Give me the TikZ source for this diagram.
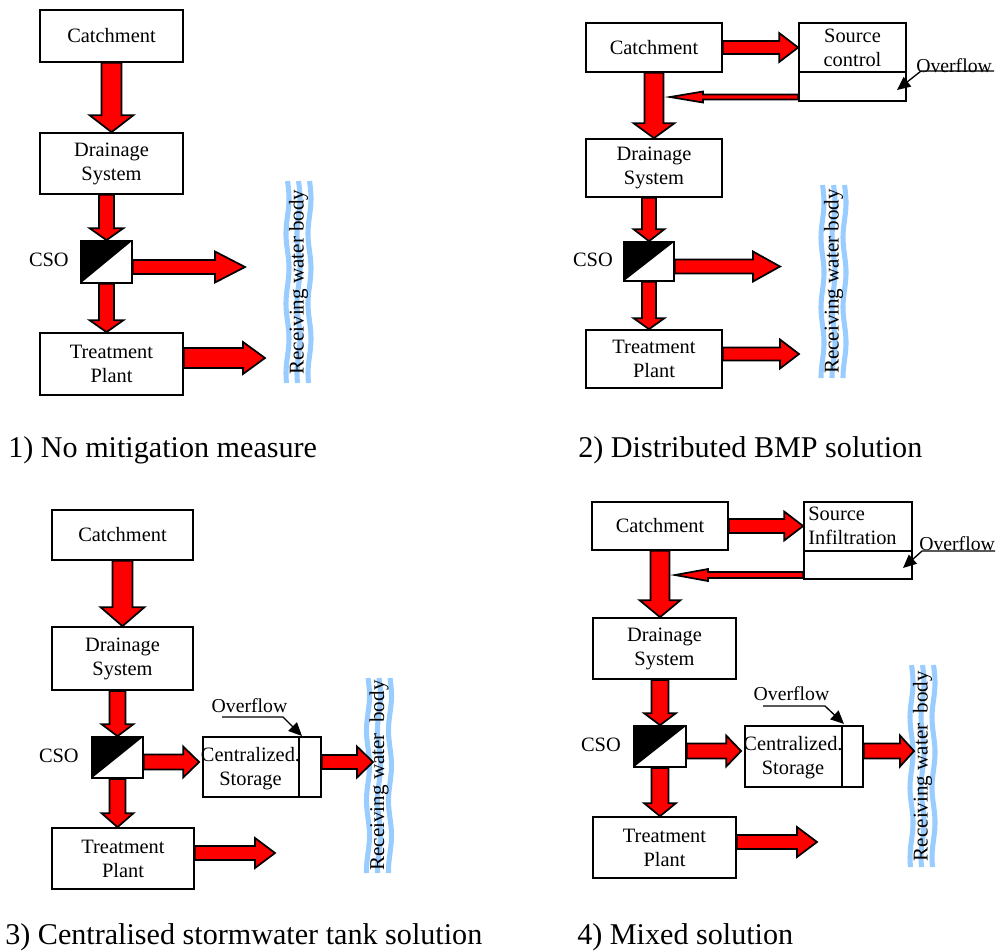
\documentclass[tikz,border=0pt]{standalone}
\usepackage{fontspec}
\setmainfont{Liberation Serif}
\usetikzlibrary{arrows.meta,calc}
\definecolor{waterblue}{HTML}{99CCFF}
\definecolor{arrred}{HTML}{FF0000}
\def\px{*0.75pt}
\newcommand\boxfont{\fontsize{15.3pt}{18pt}\selectfont}
\newcommand\ovfont{\fontsize{14.8pt}{18pt}\selectfont}
\newcommand\capfont{\fontsize{22.6pt}{26pt}\selectfont}
\newcommand\wfont{\fontsize{15.8pt}{18pt}\selectfont}
\tikzset{
  box/.style={draw, line width=1.3pt, fill=white, inner sep=0pt, font=\boxfont, align=center},
  csobox/.style={draw, line width=1.3pt, fill=white, inner sep=0pt,
    path picture={\fill[black] (path picture bounding box.south west) -- (path picture bounding box.north west) -- (path picture bounding box.north east) -- cycle;}},
  barrow/.style={draw, line width=1.3pt, fill=arrred, line join=miter},
  waterline/.style={line width=3.8pt, draw=waterblue},
  lbl/.style={font=\boxfont, inner sep=0pt},
  ovlbl/.style={font=\ovfont, inner sep=0pt},
  captext/.style={font=\capfont, inner sep=0pt},
  divider/.style={line width=1.3pt},
  calloutline/.style={line width=1pt, -{Triangle[length=10pt,width=9pt]}},
}
\newcommand\arrdown[5]{%
  \path[barrow] let \p1=#1, \p2=#2 in
  (\x1-#3\px,\y1) -- (\x1+#3\px,\y1) -- (\x1+#3\px,\y2+#5\px) -- (\x1+#4\px,\y2+#5\px)
  -- (\x1,\y2) -- (\x1-#4\px,\y2+#5\px) -- (\x1-#3\px,\y2+#5\px) -- cycle;}
\newcommand\arrright[5]{%
  \path[barrow] let \p1=#1, \p2=#2 in
  (\x1,\y1+#3\px) -- (\x2-#5\px,\y1+#3\px) -- (\x2-#5\px,\y1+#4\px) -- (\x2,\y1)
  -- (\x2-#5\px,\y1-#4\px) -- (\x2-#5\px,\y1-#3\px) -- (\x1,\y1-#3\px) -- cycle;}
\newcommand\arrleft[5]{%
  \path[barrow] let \p1=#1, \p2=#2 in
  (\x1,\y1+#3\px) -- (\x2+#5\px,\y1+#3\px) -- (\x2+#5\px,\y1+#4\px) -- (\x2,\y1)
  -- (\x2+#5\px,\y1-#4\px) -- (\x2+#5\px,\y1-#3\px) -- (\x1,\y1-#3\px) -- cycle;}
\newcommand\waterbody[5]{%
  \foreach \dx in {-11,0,11} {%
    \draw[waterline] plot[variable=\t, domain=#3:#4, samples=60, smooth] ({#2+\dx+1.5*sin((\t-#3)/70*360)}, \t);}
  \node[rotate=90, font=\wfont, inner sep=0pt] (#1) at (#2, {(#3+#4)/2}) {#5};}
\begin{document}
\begin{tikzpicture}[x=0.75pt,y=-0.75pt]
\useasboundingbox (0,0) rectangle (998,951);

% ---------- Panel 1 ----------
\waterbody{wb1}{298.5}{181}{383}{Receiving water body}
\node[box, minimum width=143\px, minimum height=52\px] (cat1) at (111.5,36) {Catchment};
\node[box, minimum width=143\px, minimum height=61\px] (dr1) at (111.5,163.5) {Drainage\\System};
\node[csobox, minimum width=51\px, minimum height=42\px] (cso1) at (106.5,262) {};
\node[box, minimum width=143\px, minimum height=62\px] (tr1) at (111.5,364) {Treatment\\Plant};
\node[lbl, anchor=east] (csol1) at (69,260) {CSO};
\coordinate (t1a) at (245,267);
\coordinate (t1b) at (265,358);
\arrdown{(cat1.south)}{(dr1.north)}{10}{22}{17}
\arrdown{(cso1.north |- dr1.south)}{(cso1.north)}{7.5}{17}{12}
\arrdown{(cso1.south)}{(cso1.south |- tr1.north)}{7.5}{17}{12}
\arrright{([yshift=-5\px]cso1.east)}{(t1a)}{7}{15.5}{30}
\arrright{([yshift=6\px]tr1.east)}{(t1b)}{10}{16}{22}

% ---------- Panel 2 ----------
\waterbody{wb2}{833.5}{185}{378}{Receiving water body}
\node[box, minimum width=136\px, minimum height=49\px] (cat2) at (654,47.5) {Catchment};
\node[box, minimum width=107\px, minimum height=49\px] (src2) at (852.5,47.5) {Source\\control};
\node[box, minimum width=107\px, minimum height=29\px] (src2b) at (852.5,86.5) {};
\node[box, minimum width=136\px, minimum height=58\px] (dr2) at (654,168) {Drainage\\System};
\node[csobox, minimum width=50\px, minimum height=39\px] (cso2) at (649,261.5) {};
\node[box, minimum width=136\px, minimum height=58\px] (tr2) at (654,359) {Treatment\\Plant};
\node[lbl, anchor=east] (csol2) at (613,260) {CSO};
\coordinate (t2r) at (670,97);
\coordinate (t2a) at (780,267);
\coordinate (t2b) at (799,354);
\arrright{(cat2.east)}{(src2.west)}{6.5}{14.5}{19}
\arrleft{([yshift=-10.5\px]src2b.west)}{(t2r)}{2.5}{5.5}{33}
\arrdown{(cat2.south)}{(cat2.south |- dr2.north)}{9.5}{20.5}{15}
\arrdown{(cso2.north |- dr2.south)}{(cso2.north)}{7}{15.5}{12}
\arrdown{(cso2.south)}{(cso2.south |- tr2.north)}{7}{15.5}{11}
\arrright{([yshift=-5\px]cso2.east)}{(t2a)}{7}{15}{27}
\arrright{([yshift=5\px]tr2.east)}{(t2b)}{6.5}{14.5}{19}
\node[ovlbl, anchor=west] (ov2) at (916,66) {Overflow};
\coordinate (ov2a) at (994,71);
\coordinate (ov2b) at (921,71);
\coordinate (ov2tip) at (897,90);
\draw[calloutline] (ov2a) -- (ov2b) -- (ov2tip);

% ---------- Panel 3 ----------
\waterbody{wb3}{379}{678}{873}{Receiving water\ \ body}
\node[box, minimum width=141\px, minimum height=50\px] (cat3) at (122.5,535) {Catchment};
\node[box, minimum width=141\px, minimum height=63\px] (dr3) at (122.5,658.5) {Drainage\\System};
\node[csobox, minimum width=51\px, minimum height=41\px] (cso3) at (117.5,757.5) {};
\node[box, minimum width=118\px, minimum height=60\px] (st3) at (262,767) {};
\node[lbl, align=center] (st3t) at (250.5,769) {Centralized.\\Storage};
\draw[divider] ([xshift=-23\px]st3.north east) -- ([xshift=-23\px]st3.south east);
\node[box, minimum width=142\px, minimum height=61\px] (tr3) at (123,858.5) {Treatment\\Plant};
\node[lbl, anchor=east] (csol3) at (79,756) {CSO};
\coordinate (t3a) at (373,762);
\coordinate (t3b) at (275,853);
\arrdown{(cat3.south)}{(cat3.south |- dr3.north)}{10}{22}{19}
\arrdown{(cso3.north |- dr3.south)}{(cso3.north)}{8}{16}{12}
\arrdown{(cso3.south)}{(cso3.south |- tr3.north)}{8}{16}{14}
\arrright{([yshift=-4.5\px]cso3.east)}{([xshift=-3\px]st3.west)}{7.5}{15.5}{16}
\arrright{([yshift=5\px]st3.east)}{(t3a)}{7}{15.5}{16}
\arrright{([yshift=5.5\px]tr3.east)}{(t3b)}{7}{15}{20}
\node[ovlbl] (ov3) at (249.5,706) {Overflow};
\coordinate (ov3a) at (222,717);
\coordinate (ov3b) at (283,717);
\coordinate (ov3tip) at (302,736);
\draw[calloutline] (ov3a) -- (ov3b) -- (ov3tip);

% ---------- Panel 4 ----------
\waterbody{wb4}{922.5}{665}{867}{Receiving water\ \ body}
\node[box, minimum width=136\px, minimum height=48\px] (cat4) at (660,526) {Catchment};
\node[box, minimum width=108\px, minimum height=49\px] (src4) at (858,526.5) {};
\node[lbl, anchor=west, align=left] (src4t) at (808,526) {Source\\Infiltration};
\node[box, minimum width=108\px, minimum height=28\px] (src4b) at (858,565) {};
\node[box, minimum width=143\px, minimum height=61\px] (dr4) at (664.5,648.5) {Drainage\\System};
\node[csobox, minimum width=52\px, minimum height=41\px] (cso4) at (660,746.5) {};
\node[box, minimum width=118\px, minimum height=61\px] (st4) at (804,756.5) {};
\node[lbl, align=center] (st4t) at (793,758) {Centralized.\\Storage};
\draw[divider] ([xshift=-22\px]st4.north east) -- ([xshift=-22\px]st4.south east);
\node[box, minimum width=143\px, minimum height=61\px] (tr4) at (664.5,847.5) {Treatment\\Plant};
\node[lbl, anchor=east] (csol4) at (621,745) {CSO};
\coordinate (t4r) at (675,575);
\coordinate (t4a) at (914,751);
\coordinate (t4b) at (817,842);
\arrright{(cat4.east)}{(src4.west)}{7}{14.5}{19}
\arrleft{([yshift=-10\px]src4b.west)}{(t4r)}{3}{6}{33}
\arrdown{(cat4.south)}{(cat4.south |- dr4.north)}{9.5}{20.5}{17}
\arrdown{(cso4.north |- dr4.south)}{(cso4.north)}{8.5}{16}{12}
\arrdown{(cso4.south)}{(cso4.south |- tr4.north)}{8.5}{16}{13}
\arrright{([yshift=-4.5\px]cso4.east)}{([xshift=-3\px]st4.west)}{7.5}{15.5}{15}
\arrright{([yshift=5.5\px]st4.east)}{(t4a)}{7.5}{15.5}{14}
\arrright{([yshift=5.5\px]tr4.east)}{(t4b)}{7}{15}{20}
\node[ovlbl] (ov4) at (791.5,694) {Overflow};
\coordinate (ov4a) at (763,706);
\coordinate (ov4b) at (825,706);
\coordinate (ov4tip) at (844,724);
\draw[calloutline] (ov4a) -- (ov4b) -- (ov4tip);
\node[ovlbl, anchor=west] (ov4t) at (919,544) {Overflow};
\coordinate (ov4c) at (995,551);
\coordinate (ov4d) at (922,551);
\coordinate (ov4tip2) at (903,568);
\draw[calloutline] (ov4c) -- (ov4d) -- (ov4tip2);

% ---------- Captions ----------
\node[captext, anchor=base west] (c1) at (8,457) {1) No mitigation measure};
\node[captext, anchor=base west] (c2) at (578,457) {2) Distributed BMP solution};
\node[captext, anchor=base west] (c3) at (5,944) {3) Centralised stormwater tank solution};
\node[captext, anchor=base west] (c4) at (577,944) {4) Mixed solution};
\end{tikzpicture}
\end{document}
